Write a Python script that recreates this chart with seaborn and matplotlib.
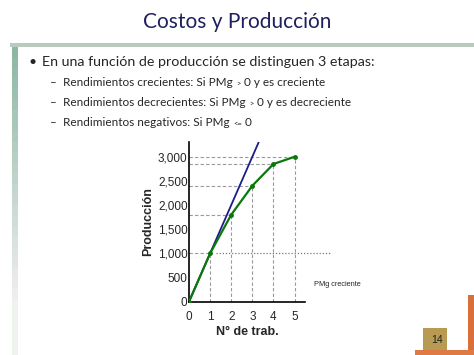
import matplotlib
matplotlib.use("Agg")
import matplotlib.pyplot as plt
import seaborn as sns
import pandas as pd
from matplotlib.patches import Rectangle

# ---- data ----
trabajadores = [0, 1, 2, 3, 4, 5]
produccion = [0, 1000, 1800, 2400, 2850, 3000]
tangente_x = [0, 3.3]
tangente_y = [0, 3300]
y_ticks = [0, 500, 1000, 1500, 2000, 2500, 3000]

titulo = "Costos y Producción"
bullet = "En una función de producción se distinguen 3 etapas:"
sub_items = [
    ("Rendimientos crecientes: Si PMg ", ">", " 0 y es creciente"),
    ("Rendimientos decrecientes: Si PMg ", ">", " 0 y es decreciente"),
    ("Rendimientos negativos: Si PMg ", "<=", " 0"),
]

sns.set_theme(style="white")
plt.rcParams['font.family'] = ['Liberation Sans', 'DejaVu Sans']
SLIDE_FONT = ["Lato", "DejaVu Sans"]

fig = plt.figure(figsize=(4.74, 3.55), dpi=100)
W, H = 474, 355

def fx(px):
    return px / W

def fy(py):
    return 1 - py / H

# ---- slide decoration ----
fig.patches.append(Rectangle((fx(10), fy(47)), fx(464), 4 / H, transform=fig.transFigure,
                             color="#b9cbbd", lw=0))
for i in range(25):
    y0 = 47 + i * 10.5
    c = (0.55 + 0.4 * i / 24, 0.72 + 0.22 * i / 24, 0.64 + 0.3 * i / 24)
    fig.patches.append(Rectangle((fx(12), fy(y0 + 10.5)), fx(6), 10.5 / H,
                                 transform=fig.transFigure, color=c, lw=0))
fig.patches.append(Rectangle((fx(12), fy(355)), fx(6), 55 / H, transform=fig.transFigure,
                             color="#eef3ee", lw=0))

# page badge, bottom right
fig.patches.append(Rectangle((fx(468), fy(355)), fx(6), 60 / H, transform=fig.transFigure,
                             color="#d9703a", lw=0))
fig.patches.append(Rectangle((fx(415), fy(355)), fx(59), 5 / H, transform=fig.transFigure,
                             color="#e07a45", lw=0))
fig.patches.append(Rectangle((fx(423), fy(350)), fx(24), 22 / H, transform=fig.transFigure,
                             color="#b89a52", lw=0))
fig.text(fx(437), fy(340), "14", fontsize=7.5, ha="center", va="center", color="#222222")

# ---- chart ----
ax = fig.add_axes([fx(189), 1 - 301.7 / H, 5.5 * 21.1 / W, 159.4 / H])
df = pd.DataFrame({"trab": trabajadores, "prod": produccion})

# guide lines
for xv, yv in zip(trabajadores[1:], produccion[1:]):
    ax.plot([xv, xv], [0, yv], color="#999999", lw=0.8, ls=(0, (3, 2)), zorder=1)
    ax.plot([0, xv], [yv, yv], color="#999999", lw=0.8, ls=(0, (3, 2)), zorder=1)
ax.plot([1.3, 6.7], [produccion[1], produccion[1]], color="#777777", lw=0.9,
        ls=(0, (1, 1.5)), zorder=1, clip_on=False)

sns.lineplot(x=tangente_x, y=tangente_y, ax=ax, color="#1c1c8a", lw=1.3, zorder=2)
sns.lineplot(data=df, x="trab", y="prod", ax=ax, color="#0a780a", lw=1.6,
             marker="o", markersize=3.5, markeredgewidth=0, zorder=3)

ax.set_xlim(0, 5.5)
ax.set_ylim(0, 3300)
ax.set_xticks(trabajadores)
ax.set_yticks(y_ticks)
ax.set_yticklabels([f"{v:,}" for v in y_ticks])
ax.tick_params(axis="x", direction="inout", length=5, width=1, labelsize=8.5, pad=4, color="black")
ax.tick_params(axis="y", length=0, labelsize=8.5, pad=1)
for s in ["top", "right"]:
    ax.spines[s].set_visible(False)
for s in ["left", "bottom"]:
    ax.spines[s].set_color("black")
    ax.spines[s].set_linewidth(1.2)
ax.set_xlabel("N° de trab.", fontsize=9, fontweight="bold", labelpad=2)
ax.set_ylabel("Producción", fontsize=9, fontweight="bold", labelpad=3)
ax.patch.set_alpha(0)

fig.text(fx(314), fy(285), "PMg creciente", fontsize=5.3, ha="left", va="center")

# ---- slide text ----
fig.text(0.5, fy(22), titulo, fontsize=15, ha="center", va="center",
         color="#1f2060", family=SLIDE_FONT)
fig.text(fx(28), fy(62), "•", fontsize=10, ha="left", va="center", family=SLIDE_FONT)
fig.text(fx(42), fy(62), bullet, fontsize=10.3, ha="left", va="center", family=SLIDE_FONT)

for i, (a, sym, b) in enumerate(sub_items):
    y = fy(86 + i * 20)
    fig.text(fx(50), y, "–", fontsize=8.5, ha="left", va="baseline", family=SLIDE_FONT)
    t1 = fig.text(fx(63), y, a, fontsize=8.5, ha="left", va="baseline", family=SLIDE_FONT)
    a2 = ax.annotate(sym, xy=(1, 0), xycoords=t1, xytext=(0.5, 1), textcoords="offset points",
                     fontsize=5.5, ha="left", va="bottom", family=SLIDE_FONT,
                     annotation_clip=False)
    ax.annotate(b, xy=(1, 0), xycoords=a2, xytext=(0, -1), textcoords="offset points",
                fontsize=8.5, ha="left", va="bottom", family=SLIDE_FONT,
                annotation_clip=False)

fig.savefig("out.png", dpi=100)
